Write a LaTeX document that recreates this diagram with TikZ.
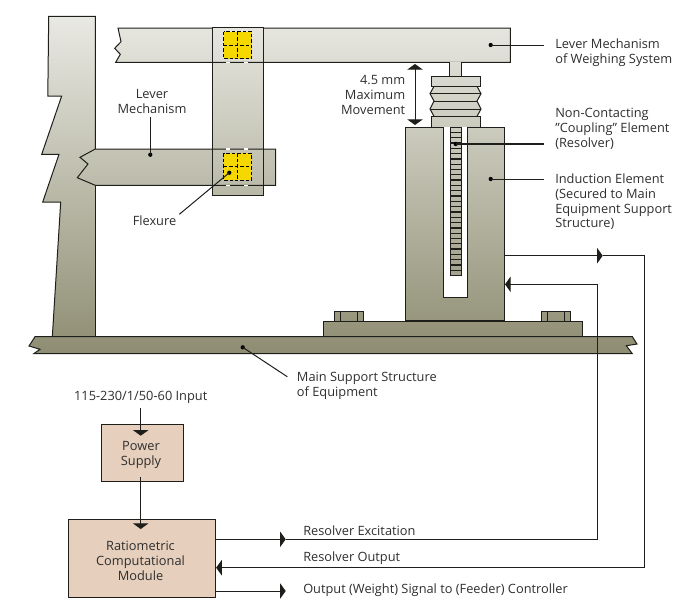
\documentclass[tikz,border=0pt]{standalone}
\usepackage{fontspec}
\setmainfont{Open Sans}
\usetikzlibrary{arrows.meta}
\definecolor{gtop}{HTML}{E9E9E3}
\definecolor{gbot}{HTML}{8E8D72}
\definecolor{boxfill}{HTML}{E6CFBC}
\definecolor{ink}{HTML}{1E1E1A}
\definecolor{txt}{HTML}{2E2E2E}
\definecolor{flex}{HTML}{F5D800}
\tikzset{
  outl/.style={draw=ink,line width=0.75pt,line join=miter},
  wire/.style={draw=ink,line width=0.75pt},
  tipw/.style={-{Triangle[length=4.2pt,width=11.5pt]},shorten >=0pt},
  tipb/.style={{Triangle[length=4.2pt,width=11.5pt]}-{Triangle[length=4.2pt,width=11.5pt]}},
  lab/.style={inner sep=0pt,text=txt,yshift=-0.9pt,font=\fontsize{9.6pt}{11.2pt}\selectfont},
  labl/.style={lab,anchor=west,align=left},
  labc/.style={lab,align=center},
  labr/.style={lab,anchor=east,align=right},
  blk/.style={outl,fill=boxfill,inner sep=0pt},
  dotn/.style={circle,fill=black,inner sep=0pt,minimum size=3.2pt},
  flexg/.style={draw=black,line width=0.75pt,dash pattern=on 2.6pt off 1.5pt}
}
\newcommand{\gradp}[1]{%
  \begin{scope}\clip #1;
    \shade[top color=gtop,bottom color=gbot,shading angle=0] (0,16) rectangle (691,355);
  \end{scope}}
\begin{document}
\begin{tikzpicture}[x=0.75pt,y=-0.75pt]
\useasboundingbox (0,0) rectangle (691,608);
% column
\gradp{(48.7,16.3) -- (95.3,16.3) -- (95.3,337) -- (52.3,337) -- (60.7,202) -- (42.7,202) -- (59,154.3) -- (41.7,154.3) -- (61.7,96) -- (47.8,96) -- cycle}
\draw[outl] (95.3,149) -- (95.3,16.3) -- (48.7,16.3) -- (47.8,96) -- (61.7,96) -- (41.7,154.3) -- (59,154.3) -- (42.7,202) -- (60.7,202) -- (52.3,337);
\draw[outl] (95.3,185.3) -- (95.3,337);
% lower lever
\gradp{(95.3,149) -- (275.7,149) -- (275.7,185.3) -- (95.3,185.3) -- (77.3,177.7) -- (88,164) -- (80,157.3) -- cycle}
% upper lever
\gradp{(118,28) -- (510.3,28) -- (510.3,62.3) -- (115.7,62.3) -- (120.3,54.3) -- (114.7,48.3) -- (121,41.7) -- cycle}
% vertical bar
\gradp{(212,27.5) rectangle (263,195.3)}
\draw[outl] (212,27.5) rectangle (263,195.3);
\draw[outl] (263,28) -- (510.3,28) -- (510.3,62.3) -- (115.7,62.3) -- (120.3,54.3) -- (114.7,48.3) -- (121,41.7) -- (118,28) -- (212,28);
\draw[outl] (263,149) -- (275.7,149) -- (275.7,185.3) -- (95.3,185.3) -- (77.3,177.7) -- (88,164) -- (80,157.3) -- (95.3,149) -- (263,149);
% gaps in lines over bar
\foreach \yy in {62.3,149,185.3}
  \foreach \xx in {228,246}
    \draw[draw=white,line width=1pt] (\xx-2,\yy) -- (\xx+2,\yy);
% flexures
\foreach \yy in {31.7,153.3} {
  \fill[flex] (223.7,\yy) rectangle (251.7,\yy+27);
  \draw[flexg] (223.7,\yy) rectangle (251.7,\yy+27);
  \draw[flexg] (237.7,\yy) -- (237.7,\yy+27);
  \draw[flexg] (223.7,\yy+13.5) -- (251.7,\yy+13.5);
}
% support
\gradp{(35,336.7) -- (632.3,336.7) -- (637,344) -- (626.3,345.7) -- (632.3,353.7) -- (34,353.5) -- (40,349.3) -- (29,346) -- cycle}
\draw[outl] (35,336.7) -- (632.3,336.7) -- (637,344) -- (626.3,345.7) -- (632.3,353.7) -- (34,353.5) -- (40,349.3) -- (29,346) -- cycle;
% base plate
\gradp{(323.7,321.3) rectangle (582.7,336.7)}
\draw[outl] (323.7,321.3) rectangle (582.7,336.7);
% bolts
\foreach \a/\b/\c/\d in {334.3/340.3/357.3/363.7,541.3/547.3/564.7/570.7} {
  \gradp{(\a,311) rectangle (\d,321.3)}
  \draw[outl] (\a,311) rectangle (\d,321.3);
  \draw[outl] (\b,311) -- (\b,321.3) (\c,311) -- (\c,321.3);
}
% stem
\gradp{(449.7,62.3) rectangle (461.3,76.7)}
\draw[outl] (449.7,62.3) -- (449.7,76.7) (461.3,62.3) -- (461.3,76.7);
% bellows
\gradp{(434,86.3) -- (477,86.3) -- (481,93.7) -- (477,101) -- (481,109) -- (477,116.3) -- (434,116.3) -- (430,109) -- (434,101) -- (430,93.7) -- cycle}
\draw[outl] (434,86.3) -- (430,93.7) -- (434,101) -- (430,109) -- (434,116.3);
\draw[outl] (477,86.3) -- (481,93.7) -- (477,101) -- (481,109) -- (477,116.3);
\draw[outl] (430,93.7) -- (481,93.7) (434,101) -- (477,101) (430,109) -- (481,109);
\gradp{(431,76.7) rectangle (480.3,86.3)}
\draw[outl] (431,76.7) rectangle (480.3,86.3);
\gradp{(431,116.3) rectangle (480.3,127)}
\draw[outl] (431,116.3) rectangle (480.3,127);
% induction element
\gradp{(405.3,127) rectangle (504.3,320.6)}
\draw[outl] (405.3,127) rectangle (504.3,320.6);
\draw[outl,fill=white] (443.7,127) -- (443.7,297.3) -- (467.7,297.3) -- (467.7,127);
% resolver
\gradp{(450,127) rectangle (461.3,275.7)}
\draw[outl] (450,127) rectangle (461.3,275.7);
\foreach \i in {1,...,27}
  \draw[draw=ink,line width=1pt] (450,127+\i*5.31) -- (461.3,127+\i*5.31);
% blocks
\node[blk,minimum width=61.5pt,minimum height=42.75pt] (ps) at (142,452.5) {};
\node[blk,minimum width=110.7pt,minimum height=58.5pt] (rcm) at (141.85,558.3) {};
\node[labc] (pst) at (141,453.5) {Power\\Supply};
\node[labc] (rcmt) at (140.5,559.5) {Ratiometric\\Computational\\Module};
% labels
\node[labc] (inp) at (140.7,396) {115-230/1/50-60 Input};
\node[labl] (l1) at (555,51.7) {Lever Mechanism\\of Weighing System};
\node[labr] (l2) at (405.5,94) {4.5 mm\\Maximum\\Movement};
\node[labl] (l3) at (555,127.7) {Non-Contacting\\\char34 Coupling\char34{} Element\\(Resolver)};
\node[labl] (l4) at (555,200.5) {Induction Element\\(Secured to Main\\Equipment Support\\Structure)};
\node[labc] (l5) at (152,100) {Lever\\Mechanism};
\node[labc] (l6) at (154.5,219) {Flexure};
\node[labl] (l7) at (296.7,384.5) {Main Support Structure\\of Equipment};
\node[labl] (l8) at (303,529) {Resolver Excitation};
\node[labl] (l9) at (303,557) {Resolver Output};
\node[labl] (l10) at (303,589) {Output (Weight) Signal to (Feeder) Controller};
% leader dots
\node[dotn] (d1) at (490.7,45) {};
\node[dotn] (d3) at (455.7,144) {};
\node[dotn] (d4) at (490.7,179) {};
\node[dotn] (d5) at (150.3,154.7) {};
\node[dotn] (d6) at (229.3,172.7) {};
\node[dotn] (d7) at (242.7,347.3) {};
\coordinate (e1) at (544,45);
\coordinate (e3) at (544,144);
\coordinate (e4) at (544,179);
\coordinate (e5) at (150.3,117);
\coordinate (e6) at (179.3,214.3);
\coordinate (e7) at (287.3,376.7);
\draw[wire] (d1.center) -- (e1);
\draw[wire,line width=1pt] (d3.center) -- (e3);
\draw[wire] (d4.center) -- (e4);
\draw[wire] (e5) -- (d5.center);
\draw[wire] (e6) -- (d6.center);
\draw[wire] (e7) -- (d7.center);
% movement arrow
\coordinate (mt) at (415,64);
\coordinate (mb) at (415,125);
\draw[wire,tipb] (mt) -- (mb);
% feed arrows
\coordinate (i0) at (140.7,408.3);
\coordinate (i1) at (140.7,435.7);
\draw[wire,tipw] (i0) -- (i1);
\coordinate (p0) at (140.7,477);
\coordinate (p1) at (140.7,529);
\draw[wire,tipw] (p0) -- (p1);
% resolver excitation
\coordinate (xa) at (285.7,539.3);
\coordinate (xb) at (597.3,539.3);
\coordinate (xc) at (597.3,284.3);
\coordinate (xd) at (505,284.3);
\draw[wire,tipw] (rcm.east |- xa) -- (xa);
\draw[wire,tipw] (xa) -- (xb) -- (xc) -- (xd);
% resolver output
\coordinate (ra) at (504.3,255.7);
\coordinate (rb) at (602.7,255.7);
\coordinate (rc) at (644.7,255.7);
\coordinate (rd) at (644.7,567.7);
\draw[wire,tipw] (ra) -- (rb);
\draw[wire,tipw] (rb) -- (rc) -- (rd) -- (rcm.east |- rd);
% output
\coordinate (oa) at (285.7,591);
\draw[wire,tipw] (rcm.east |- oa) -- (oa);
\end{tikzpicture}
\end{document}
